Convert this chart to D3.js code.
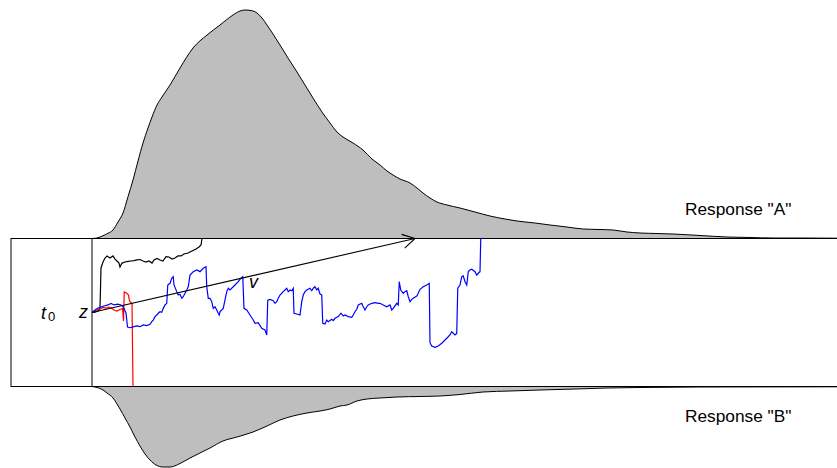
<!DOCTYPE html>
<html><head><meta charset="utf-8">
<script src="https://cdn.jsdelivr.net/npm/d3@7"></script>
<style>body{margin:0;background:#fff}svg{display:block}</style>
</head><body><svg id="c" width="837" height="468"></svg>
<script>
// ---- model values ----
const t0 = 324;          // non-decision time (ms)
const boundaryA = 1;     // upper boundary (response "A"), lower boundary = 0
const startZ = 0.5;      // starting point z
const driftEnd = [1292, 1.0];   // drift rate v arrow end [decision time ms, evidence]

// ---- response-time densities [decision time ms, density] ----
const densityA = [[0,0],[20,0.005],[44,0.028],[64,0.052],[84,0.085],[104,0.165],[124,0.255],[144,0.418],[164,0.585],[184,0.775],[204,0.955],[224,1.105],[240,1.215],[260,1.335],[280,1.415],[312,1.535],[352,1.705],[404,1.905],[460,2.035],[512,2.135],[564,2.235],[592,2.275],[612,2.285],[636,2.28],[660,2.255],[680,2.205],[700,2.135],[724,2.045],[752,1.935],[784,1.805],[820,1.665],[852,1.535],[884,1.405],[920,1.265],[952,1.155],[980,1.065],[1004,1.015],[1044,0.955],[1084,0.885],[1120,0.795],[1152,0.735],[1180,0.675],[1204,0.635],[1232,0.595],[1272,0.555],[1300,0.505],[1324,0.455],[1352,0.405],[1380,0.365],[1420,0.335],[1472,0.305],[1532,0.265],[1592,0.225],[1652,0.195],[1700,0.175],[1772,0.155],[1832,0.135],[1900,0.115],[1964,0.095],[2032,0.09],[2084,0.085],[2140,0.065],[2192,0.055],[2260,0.05],[2324,0.045],[2432,0.03],[2540,0.015],[2632,0.01],[2724,0.005],[2832,0.005],[2980,0.003]];
const densityB = [[0,0],[20,0.01],[44,0.035],[60,0.065],[84,0.115],[100,0.175],[112,0.225],[132,0.315],[152,0.405],[172,0.505],[192,0.595],[212,0.675],[232,0.735],[256,0.785],[284,0.805],[312,0.805],[352,0.77],[392,0.715],[432,0.665],[472,0.615],[524,0.545],[580,0.505],[644,0.455],[700,0.395],[752,0.335],[804,0.295],[860,0.265],[912,0.245],[952,0.225],[992,0.195],[1020,0.185],[1060,0.145],[1100,0.125],[1152,0.115],[1220,0.105],[1312,0.10],[1392,0.095],[1472,0.08],[1564,0.055],[1672,0.045],[1792,0.035],[1932,0.025],[2060,0.015],[2192,0.01],[2432,0.005],[2980,0.003]];

// ---- sample paths [decision time ms, evidence] ----
const pathBlack = [[0,0.5],[12,0.503],[24,0.51],[32,0.524],[36,0.801],[44,0.841],[52,0.868],[60,0.882],[72,0.868],[84,0.882],[92,0.861],[100,0.848],[108,0.834],[112,0.807],[120,0.834],[132,0.841],[144,0.845],[156,0.848],[168,0.851],[180,0.855],[192,0.858],[204,0.848],[216,0.841],[228,0.848],[240,0.834],[248,0.855],[260,0.865],[272,0.855],[284,0.848],[296,0.878],[308,0.875],[320,0.861],[332,0.868],[344,0.882],[356,0.882],[368,0.895],[384,0.902],[400,0.916],[416,0.929],[428,0.943],[436,0.956],[440,1.0]];
const pathRed = [[0,0.5],[12,0.51],[24,0.52],[36,0.527],[44,0.534],[56,0.53],[68,0.537],[80,0.527],[88,0.517],[100,0.51],[112,0.52],[122,0.527],[126,0.443],[129,0.639],[138,0.632],[146,0.618],[150,0.578],[160,0.561],[164,0]];
const pathBlue = [[0,0.5],[12,0.517],[24,0.53],[36,0.537],[48,0.544],[64,0.551],[76,0.561],[88,0.551],[104,0.557],[116,0.551],[124,0.541],[136,0.497],[142,0.402],[152,0.397],[168,0.405],[179,0.409],[192,0.404],[205,0.416],[219,0.411],[232,0.42],[239,0.438],[245,0.449],[252,0.472],[259,0.483],[265,0.495],[272,0.505],[279,0.501],[285,0.528],[292,0.551],[299,0.562],[303,0.686],[312,0.697],[319,0.731],[325,0.742],[328,0.686],[339,0.641],[345,0.618],[352,0.623],[359,0.596],[365,0.607],[372,0.63],[379,0.652],[385,0.674],[392,0.753],[399,0.765],[405,0.776],[419,0.787],[432,0.776],[445,0.799],[456,0.809],[459,0.674],[465,0.596],[472,0.596],[479,0.573],[485,0.528],[492,0.539],[499,0.517],[505,0.495],[509,0.483],[512,0.505],[525,0.528],[536,0.618],[539,0.641],[545,0.664],[552,0.652],[565,0.674],[572,0.686],[585,0.708],[595,0.731],[603,0.742],[608,0.528],[619,0.517],[632,0.483],[645,0.449],[652,0.427],[665,0.431],[679,0.393],[692,0.382],[699,0.348],[703,0.584],[712,0.589],[725,0.58],[732,0.562],[739,0.573],[745,0.596],[752,0.618],[759,0.63],[765,0.641],[772,0.652],[779,0.664],[785,0.641],[792,0.652],[799,0.647],[805,0.664],[808,0.495],[819,0.49],[832,0.483],[839,0.573],[845,0.618],[852,0.641],[859,0.652],[872,0.664],[879,0.647],[885,0.664],[892,0.674],[899,0.652],[905,0.664],[912,0.625],[919,0.618],[923,0.427],[932,0.422],[939,0.449],[945,0.438],[959,0.454],[965,0.445],[972,0.461],[985,0.472],[996,0.495],[1005,0.476],[1012,0.483],[1025,0.472],[1039,0.468],[1045,0.483],[1052,0.505],[1059,0.522],[1065,0.551],[1079,0.562],[1085,0.539],[1092,0.517],[1099,0.539],[1105,0.551],[1119,0.562],[1132,0.566],[1145,0.562],[1152,0.562],[1165,0.551],[1179,0.539],[1192,0.551],[1199,0.517],[1205,0.528],[1219,0.562],[1225,0.551],[1229,0.708],[1235,0.652],[1245,0.63],[1252,0.641],[1259,0.647],[1265,0.607],[1272,0.573],[1279,0.589],[1285,0.596],[1299,0.611],[1305,0.63],[1312,0.657],[1325,0.674],[1339,0.686],[1349,0.697],[1352,0.296],[1359,0.274],[1372,0.265],[1385,0.274],[1399,0.292],[1412,0.314],[1419,0.326],[1432,0.348],[1439,0.37],[1452,0.348],[1459,0.359],[1463,0.664],[1472,0.686],[1479,0.742],[1485,0.747],[1492,0.708],[1499,0.686],[1505,0.776],[1512,0.787],[1519,0.792],[1532,0.776],[1539,0.753],[1545,0.765],[1552,0.776],[1555,1.0]];

const responseLabels = ['Response "A"', 'Response "B"'];

// ---- drawing ----
const svg = d3.select("#c");
const x = d3.scaleLinear().domain([0, 3304]).range([11, 837]);
const y = d3.scaleLinear().domain([0, boundaryA]).range([386.5, 238.5]);
const dens = d3.scaleLinear().domain([0, 1]).range([0, 100]);
const yTop = y(boundaryA), yBot = y(0);
const font = "'Liberation Sans', Arial, Helvetica, sans-serif";

// densities
const areaA = d3.area().x(d => x(t0 + d[0])).y0(yTop).y1(d => yTop - dens(d[1])).curve(d3.curveMonotoneX);
const lineA = d3.line().x(d => x(t0 + d[0])).y(d => yTop - dens(d[1])).curve(d3.curveMonotoneX);
const areaB = d3.area().x(d => x(t0 + d[0])).y0(yBot).y1(d => yBot + dens(d[1])).curve(d3.curveMonotoneX);
const lineB = d3.line().x(d => x(t0 + d[0])).y(d => yBot + dens(d[1])).curve(d3.curveMonotoneX);
svg.append("path").datum(densityA).attr("d", areaA).attr("fill", "#bebebe");
svg.append("path").datum(densityA).attr("d", lineA).attr("fill", "none").attr("stroke", "#000").attr("stroke-width", 1);
svg.append("path").datum(densityB).attr("d", areaB).attr("fill", "#bebebe");
svg.append("path").datum(densityB).attr("d", lineB).attr("fill", "none").attr("stroke", "#000").attr("stroke-width", 1);

// box
svg.append("rect").attr("x", x(0)).attr("y", yTop).attr("width", x(3400) - x(0)).attr("height", yBot - yTop)
  .attr("fill", "none").attr("stroke", "#000").attr("stroke-width", 1);
svg.append("line").attr("x1", x(t0)).attr("x2", x(t0)).attr("y1", yTop).attr("y2", yBot)
  .attr("stroke", "#000").attr("stroke-width", 1);

// paths
const pline = d3.line().x(d => x(t0 + d[0])).y(d => y(d[1]));
[[pathBlack, "#000"], [pathRed, "#ff0000"], [pathBlue, "#0000ff"]].forEach(([p, c]) => {
  svg.append("path").datum(p).attr("d", pline).attr("fill", "none").attr("stroke", c).attr("stroke-width", 1.2);
});

// drift arrow
const x1 = x(t0), y1 = y(startZ), x2 = x(t0 + driftEnd[0]), y2 = y(driftEnd[1]);
svg.append("line").attr("x1", x1).attr("y1", y1).attr("x2", x2).attr("y2", y2).attr("stroke", "#000").attr("stroke-width", 1.1);
const ang = Math.atan2(y1 - y2, x1 - x2), L = 14, h = Math.PI / 6;
svg.append("path").attr("d", `M${x2 + L * Math.cos(ang + h)},${y2 + L * Math.sin(ang + h)}L${x2},${y2}L${x2 + L * Math.cos(ang - h)},${y2 + L * Math.sin(ang - h)}`)
  .attr("fill", "none").attr("stroke", "#000").attr("stroke-width", 1.1);

// labels
const txt = (s, tx, ty, size, italic) => svg.append("text").attr("x", tx).attr("y", ty).attr("font-family", font)
  .attr("font-size", size).attr("font-style", italic ? "italic" : "normal").attr("fill", "#000").text(s);
txt(responseLabels[0], 685, 215, 17.3, false);
txt(responseLabels[1], 685, 421.5, 17.3, false);
txt("t", 41, 319, 18, true);
txt("0", 48, 321, 13, false);
txt("z", 79, 318, 18, true);
txt("v", 249, 288, 18, true);
</script></body></html>
